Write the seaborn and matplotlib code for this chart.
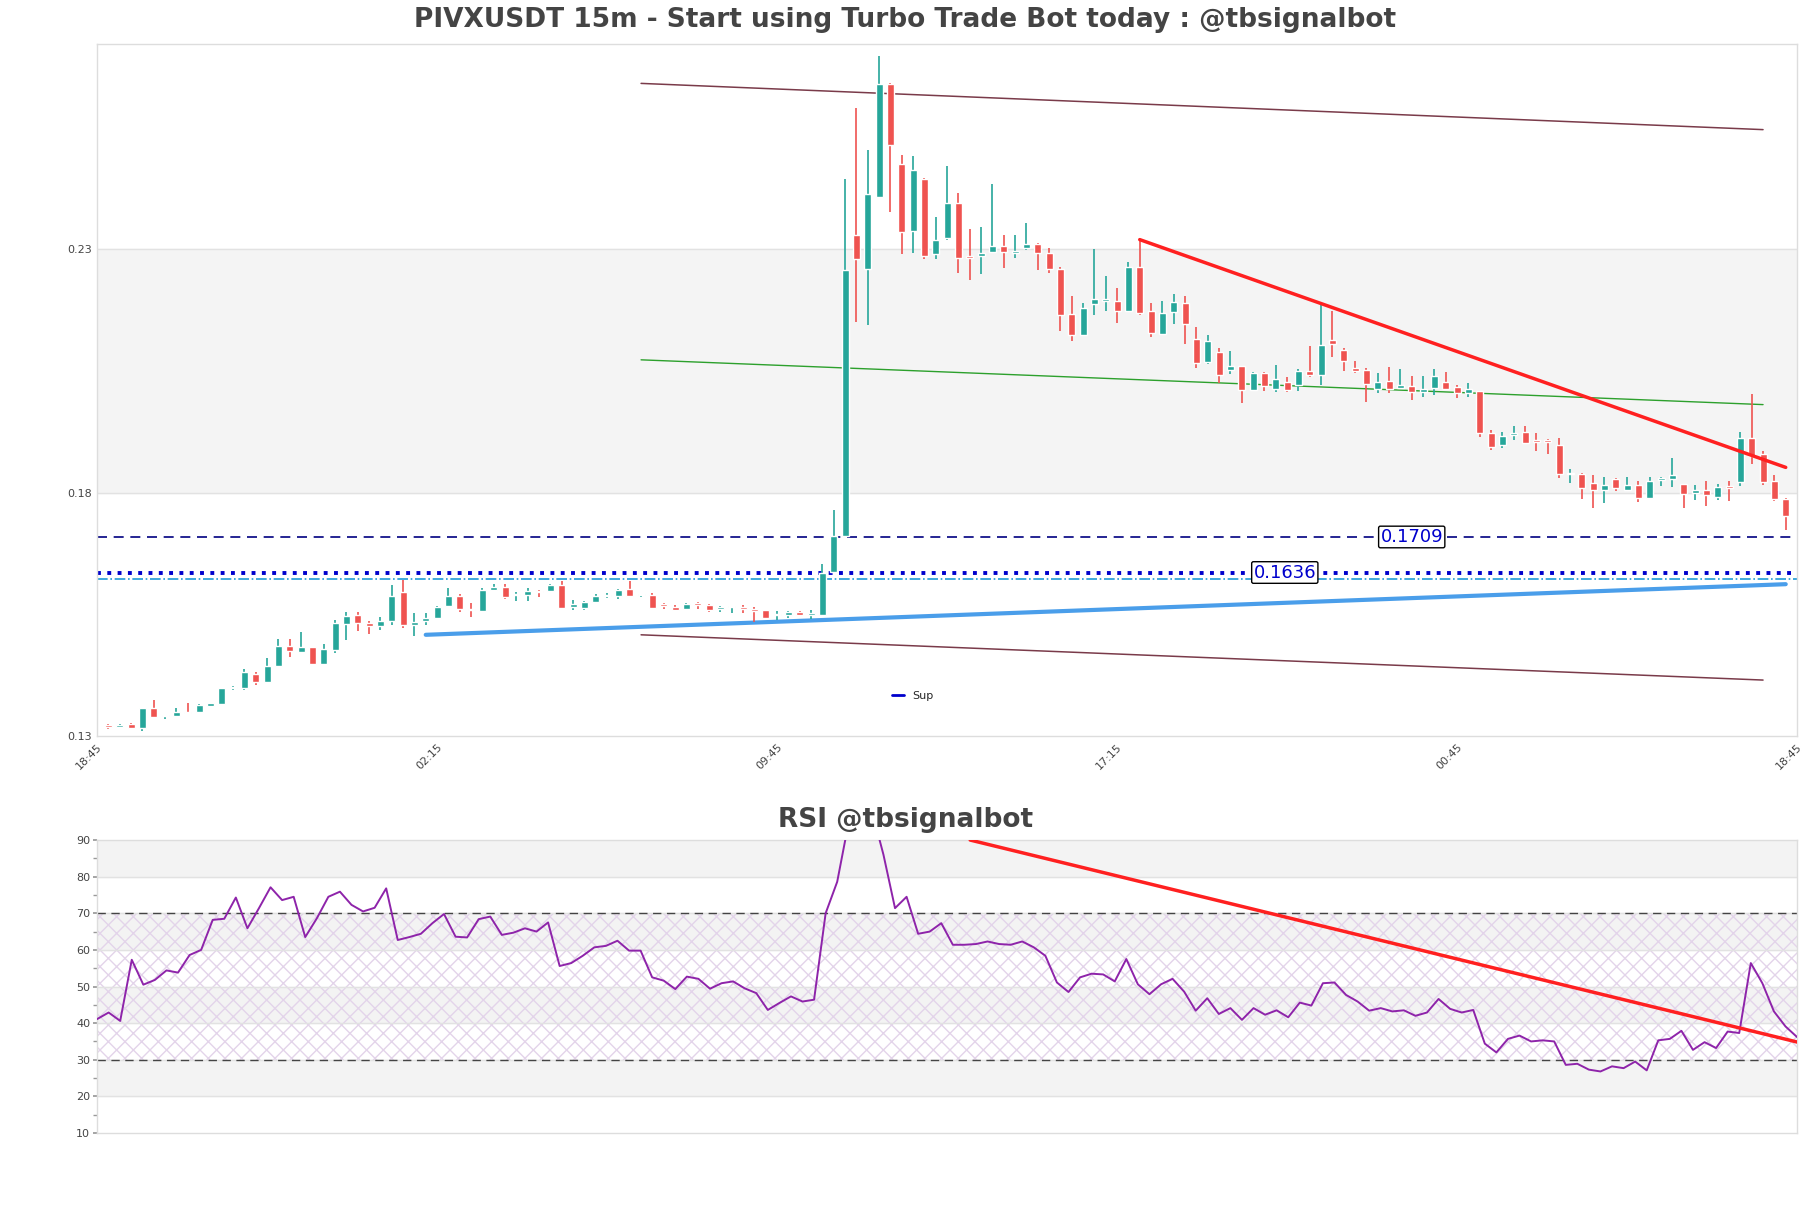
import numpy as np
import pandas as pd
import matplotlib
matplotlib.use("Agg")
import matplotlib.pyplot as plt
import seaborn as sns

opens = [.1322,.1319,.1324,.1316,.1357,.1341,.1341,.1350,.1349,.1362,.1365,.1398,.1398,.1427,.1412,.1443,.1486,.1472,.1482,.1447,
         .1476,.1530,.1549,.1533,.1526,.1537,.1595,.1528,.1536,.1543,.1567,.1587,.1561,.1557,.1600,.1607,.1589,.1589,.1598,.1597,
         .1611,.1565,.1563,.1576,.1587,.1588,.1602,.1589,.1590,.1570,.1566,.1560,.1573,.1570,.1560,.1565,.1566,.1562,.1558,.1548,
         .1549,.1554,.1549,.1548,.1638,.1712,.2330,.2260,.2408,.2640,.2475,.2337,.2444,.2290,.2324,.2396,.2286,.2286,.2294,.2306,
         .2293,.2303,.2311,.2293,.2260,.2168,.2124,.2187,.2194,.2194,.2173,.2264,.2174,.2127,.2172,.2190,.2116,.2068,.2090,.2053,
         .2061,.2010,.2046,.2014,.2027,.2022,.2050,.2041,.2114,.2094,.2057,.2053,.2014,.2030,.2015,.2020,.2007,.2016,.2027,.2018,
         .2005,.2009,.1922,.1897,.1918,.1925,.1908,.1908,.1898,.1838,.1839,.1820,.1805,.1829,.1806,.1816,.1789,.1827,.1828,.1818,
         .1799,.1806,.1792,.1812,.1822,.1913,.1879,.1824,.1787]
closes = [.1319,.1323,.1317,.1357,.1339,.1342,.1350,.1347,.1363,.1367,.1398,.1400,.1431,.1411,.1443,.1486,.1474,.1482,.1447,.1478,
          .1533,.1546,.1532,.1526,.1537,.1587,.1529,.1535,.1543,.1566,.1587,.1560,.1559,.1600,.1607,.1585,.1592,.1599,.1596,.1610,
          .1563,.1571,.1575,.1588,.1590,.1600,.1588,.1590,.1563,.1568,.1559,.1572,.1570,.1558,.1566,.1566,.1560,.1556,.1542,.1549,
          .1554,.1549,.1551,.1636,.1712,.2258,.2280,.2414,.2640,.2514,.2335,.2463,.2287,.2319,.2396,.2282,.2283,.2292,.2306,.2295,
          .2294,.2312,.2292,.2259,.2166,.2123,.2180,.2198,.2196,.2173,.2264,.2169,.2129,.2170,.2191,.2147,.2066,.2112,.2041,.2061,
          .2012,.2046,.2020,.2034,.2010,.2050,.2041,.2104,.2106,.2070,.2050,.2023,.2028,.2014,.2022,.2006,.2013,.2040,.2014,.2005,
          .2013,.1922,.1893,.1917,.1923,.1903,.1905,.1904,.1838,.1839,.1810,.1805,.1816,.1810,.1815,.1790,.1825,.1829,.1837,.1797,
          .1806,.1795,.1812,.1810,.1913,.1875,.1822,.1787,.1753]
highs = [.1325,.1324,.1326,.1358,.1375,.1342,.1357,.1367,.1366,.1368,.1399,.1402,.1437,.1432,.1461,.1500,.1500,.1513,.1482,.1490,
         .1539,.1554,.1554,.1537,.1544,.1611,.1620,.1552,.1553,.1568,.1605,.1592,.1574,.1604,.1613,.1613,.1596,.1604,.1601,.1613,
         .1619,.1580,.1577,.1592,.1594,.1602,.1619,.1592,.1593,.1574,.1569,.1574,.1575,.1572,.1568,.1568,.1569,.1565,.1558,.1557,
         .1557,.1557,.1558,.1654,.1765,.2444,.2591,.2504,.2698,.2642,.2493,.2492,.2447,.2366,.2471,.2416,.2341,.2346,.2434,.2329,
         .2329,.2355,.2314,.2303,.2263,.2205,.2189,.2301,.2246,.2220,.2274,.2321,.2189,.2194,.2209,.2205,.2141,.2124,.2098,.2092,
         .2061,.2047,.2048,.2063,.2038,.2054,.2101,.2188,.2174,.2098,.2070,.2057,.2046,.2059,.2055,.2039,.2039,.2055,.2048,.2022,
         .2025,.2009,.1928,.1925,.1937,.1937,.1923,.1910,.1912,.1849,.1840,.1836,.1832,.1830,.1833,.1825,.1833,.1832,.1871,.1818,
         .1816,.1825,.1818,.1825,.1925,.2003,.1886,.1836,.1789]
lows = [.1315,.1317,.1316,.1310,.1338,.1335,.1340,.1346,.1348,.1360,.1364,.1395,.1394,.1405,.1411,.1442,.1463,.1472,.1446,.1446,
        .1470,.1498,.1515,.1509,.1517,.1528,.1523,.1506,.1528,.1543,.1566,.1555,.1544,.1555,.1600,.1581,.1577,.1577,.1585,.1595,
        .1560,.1559,.1559,.1573,.1584,.1582,.1586,.1585,.1560,.1561,.1558,.1559,.1561,.1555,.1555,.1553,.1552,.1535,.1542,.1538,
        .1542,.1547,.1541,.1548,.1638,.1711,.2150,.2145,.2405,.2377,.2290,.2292,.2280,.2280,.2320,.2252,.2237,.2249,.2292,.2261,
        .2283,.2299,.2258,.2251,.2133,.2111,.2122,.2166,.2174,.2148,.2173,.2165,.2120,.2127,.2146,.2105,.2056,.2064,.2025,.2044,
        .1984,.2010,.2008,.2006,.2007,.2008,.2037,.2022,.2078,.2051,.2046,.1986,.2005,.2005,.2013,.1991,.1996,.2001,.2012,.1994,
        .1996,.1914,.1887,.1891,.1909,.1902,.1886,.1879,.1830,.1820,.1787,.1768,.1779,.1803,.1806,.1781,.1788,.1813,.1812,.1768,
        .1784,.1773,.1786,.1782,.1814,.1859,.1816,.1782,.1723]

rsi = [41.1,42.9,40.6,57.3,50.5,51.8,54.4,53.8,58.6,60.0,68.2,68.5,74.3,65.9,71.4,77.1,73.6,74.5,63.5,68.6,
       74.5,75.9,72.3,70.5,71.5,76.8,62.7,63.5,64.4,67.3,69.8,63.6,63.4,68.4,69.1,64.1,64.7,65.9,65.0,67.5,
       55.6,56.4,58.4,60.7,61.1,62.5,59.8,59.8,52.5,51.6,49.3,52.7,52.1,49.4,50.9,51.4,49.5,48.2,43.6,45.5,
       47.3,45.9,46.4,70.0,78.6,95.0,97.0,98.0,86.0,71.4,74.5,64.4,65.0,
       67.3,61.4,61.4,61.6,62.3,61.6,61.4,62.3,60.7,58.4,51.1,48.5,52.5,53.5,53.3,51.4,57.5,50.6,47.9,50.6,
       52.1,48.6,43.4,46.8,42.5,44.1,40.9,44.1,42.3,43.5,41.6,45.6,44.8,50.9,51.1,47.7,45.9,43.4,44.1,43.2,
       43.5,42.0,42.9,46.6,43.9,42.9,43.6,34.4,32.0,35.7,36.6,35.0,35.3,35.0,28.6,28.9,27.3,26.8,28.2,27.7,
       29.5,27.1,35.3,35.7,37.9,32.7,34.8,33.2,37.7,37.3,56.4,50.9,43.2,39.1,36.2]

tick_labels = ["18:45", "02:15", "09:45", "17:15", "00:45", "18:45"]
levels = [0.1709, 0.1636]

n = len(opens)
idx = np.arange(n)
df = pd.DataFrame({"i": idx, "o": opens, "c": closes, "h": highs, "l": lows})
up = df.c >= df.o
GREEN, RED = "#26a69a", "#ef5350"

sns.set_theme(style="white")
fig = plt.figure(figsize=(18.11, 12.08), dpi=100)
ax = fig.add_axes([0.0536, 0.3907, 0.9387, 0.5729])
ax2 = fig.add_axes([0.0536, 0.0621, 0.9387, 0.2425])

for a in (ax, ax2):
    for s in a.spines.values():
        s.set_color("#dddddd")
        s.set_linewidth(1)

# price panel
ax.axhspan(0.18, 0.23, color="#f4f4f4", zorder=0)
ax.axhline(0.23, color="#e2e2e2", lw=1, zorder=0)
ax.axhline(0.18, color="#e2e2e2", lw=1, zorder=0)
colors = np.where(up, GREEN, RED)
ax.vlines(df.i, df.l, df.h, colors=colors, lw=1.2, zorder=3)
ax.bar(df.i, (df.c - df.o).abs().clip(lower=0.0003), bottom=np.minimum(df.o, df.c),
       width=0.62, color=colors, zorder=4)

ax.plot([47, 146], [0.2641, 0.2546], color="#7a3b4a", lw=1.1, zorder=2)
ax.plot([47, 146], [0.1508, 0.1415], color="#7a3b4a", lw=1.1, zorder=2)
ax.plot([47, 146], [0.2073, 0.1981], color="#2ca02c", lw=1.0, zorder=2)
ax.plot([91, 148], [0.2320, 0.1852], color="#ff2020", lw=2.5, zorder=5)
ax.plot([28, 148], [0.1508, 0.1612], color="#4a9eea", lw=3, zorder=2)
ax.axhline(levels[0], color="#000080", ls=(0, (6, 4)), lw=1.2, zorder=2)
ax.axhline(levels[1], color="#0000cc", ls=":", lw=2.8, zorder=2)
ax.axhline(0.1623, color="#1f9bd6", ls="-.", lw=1.2, zorder=2)
for xv, lv in zip([115, 103.8], levels):
    ax.text(xv, lv, f"{lv:.4f}", color="#0000cc", fontsize=13, ha="center", va="center", zorder=6,
            bbox=dict(boxstyle="round,pad=0.1", fc="white", ec="black", lw=1))
ax.legend([plt.Line2D([], [], color="#0000cc", lw=2)], ["Sup"], loc="center", bbox_to_anchor=(0.48, 0.058),
          frameon=False, fontsize=8, handlelength=1)

ax.set_xlim(-1, 149)
ax.set_ylim(0.13, 0.2722)
ax.set_yticks([0.13, 0.18, 0.23])
ax.set_yticklabels(["0.13", "0.18", "0.23"], fontsize=8, color="#444")
ax.set_xticks([-1, 29, 59, 89, 119, 149])
ax.set_xticklabels(tick_labels, rotation=45, ha="right", rotation_mode="anchor", fontsize=8, color="#444")
ax.tick_params(length=0, pad=4)
fig.text(0.5, 0.9835, "PIVXUSDT 15m - Start using Turbo Trade Bot today : @tbsignalbot", fontsize=19,
         fontweight="bold", color="#444444", ha="center", va="center")

# RSI panel
for lo, hi in [(80, 90), (60, 70), (40, 50), (20, 30)]:
    ax2.axhspan(lo, hi, color="#f3f3f3", zorder=0)
ax2.axhspan(30, 70, facecolor="none", edgecolor="#e3d4ea", hatch="xx", lw=0, zorder=0)
for yv in range(20, 90, 10):
    ax2.axhline(yv, color="#e2e2e2", lw=1, zorder=0)
ax2.axhline(70, color="#444", ls=(0, (6, 4)), lw=1, zorder=2)
ax2.axhline(30, color="#444", ls=(0, (6, 4)), lw=1, zorder=2)
rdf = pd.DataFrame({"i": np.arange(len(rsi)), "rsi": rsi})
sns.lineplot(data=rdf, x="i", y="rsi", ax=ax2, color="#8e24aa", lw=1.4, zorder=3)
ax2.plot([75.5, 149], [90, 33.3], color="#ff2020", lw=2.5, zorder=4)
ax2.set_xlim(0, len(rsi) - 1)
ax2.set_ylim(10, 90)
ax2.set_yticks(range(10, 91, 10))
ax2.set_yticks(range(15, 90, 10), minor=True)
ax2.set_yticklabels([str(v) for v in range(10, 91, 10)], fontsize=8, color="#444")
ax2.tick_params(axis="y", which="both", length=3, color="#999", left=True, pad=2)
ax2.set_xticks([])
ax2.set_xlabel("")
ax2.set_ylabel("")
fig.text(0.5, 0.3215, "RSI @tbsignalbot", fontsize=19, fontweight="bold", color="#444444",
         ha="center", va="center")

fig.savefig("out.png", dpi=100)
